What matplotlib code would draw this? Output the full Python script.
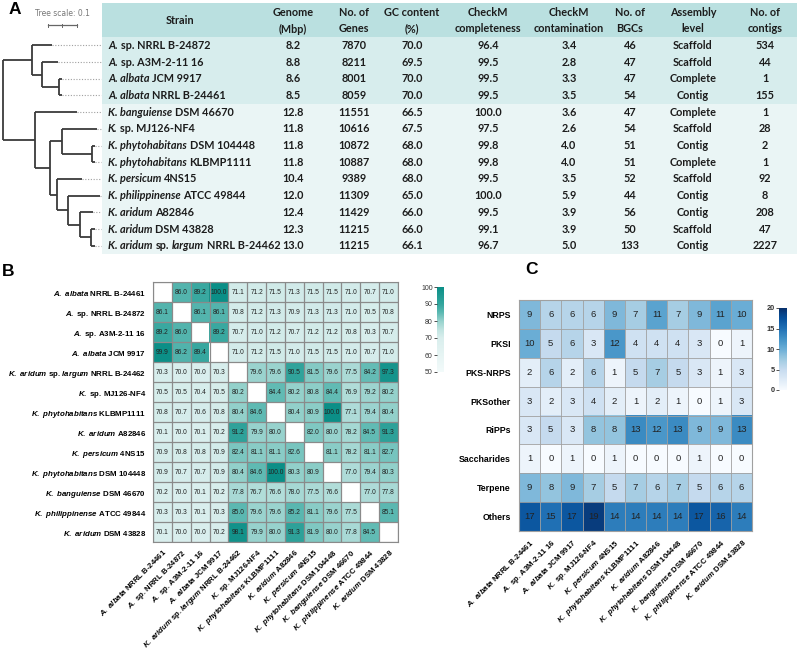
import matplotlib
matplotlib.use("Agg")
import matplotlib.pyplot as plt
import numpy as np
from matplotlib.colors import LinearSegmentedColormap
from matplotlib.patches import Rectangle

plt.rcParams.update({
    "font.family": "Liberation Sans",
    "mathtext.fontset": "custom",
    "mathtext.rm": "Liberation Sans:bold",
    "mathtext.bf": "Liberation Sans:bold",
    "mathtext.it": "Liberation Sans:italic:bold",
})

W, H = 797, 653

# ---------------- Panel A: genome table ----------------
# italic parts wrapped in *...*
STRAINS = [
    "*A.* sp. NRRL B-24872", "*A.* sp. A3M-2-11 16", "*A. albata* JCM 9917",
    "*A. albata* NRRL B-24461", "*K. banguiense* DSM 46670", "*K.* sp. MJ126-NF4",
    "*K. phytohabitans* DSM 104448", "*K. phytohabitans* KLBMP1111",
    "*K. persicum* 4NS15", "*K. philippinense* ATCC 49844", "*K. aridum* A82846",
    "*K. aridum* DSM 43828", "*K. aridum* sp. *largum* NRRL B-24462",
]
GENOME = [8.2, 8.8, 8.6, 8.5, 12.8, 11.8, 11.8, 11.8, 10.4, 12.0, 12.4, 12.3, 13.0]
GENES = [7870, 8211, 8001, 8059, 11551, 10616, 10872, 10887, 9389, 11309, 11429, 11215, 11215]
GC = [70.0, 69.5, 70.0, 70.0, 66.5, 67.5, 68.0, 68.0, 68.0, 65.0, 66.0, 66.0, 66.1]
COMPLETENESS = [96.4, 99.5, 99.5, 99.5, 100.0, 97.5, 99.8, 99.8, 99.5, 100.0, 99.5, 99.1, 96.7]
CONTAMINATION = [3.4, 2.8, 3.3, 3.5, 3.6, 2.6, 4.0, 4.0, 3.5, 5.9, 3.9, 3.9, 5.0]
BGCS = [46, 47, 47, 54, 47, 54, 51, 51, 52, 44, 56, 50, 133]
ASSEMBLY = ["Scaffold", "Scaffold", "Complete", "Contig", "Complete", "Scaffold", "Contig",
            "Complete", "Scaffold", "Contig", "Contig", "Scaffold", "Contig"]
CONTIGS = [534, 44, 1, 155, 1, 28, 2, 1, 92, 8, 208, 47, 2227]
HEADERS = [("Strain",), ("Genome", "(Mbp)"), ("No. of", "Genes"), ("GC content", "(%)"),
           ("CheckM", "completeness"), ("CheckM", "contamination"), ("No. of", "BGCs"),
           ("Assembly", "level"), ("No. of", "contigs")]

# phylogeny: (branch length, children | leaf row index)
TREE = (0.0, [
    (0.100, [
        (0.069, 0),
        (0.034, [(0.055, 1), (0.059, [(0.010, 2), (0.010, 3)])]),
    ]),
    (0.110, [
        (0.145, 4),
        (0.052, [
            (0.041, [(0.121, 5), (0.103, [(0.010, 6), (0.010, 7)])]),
            (0.024, [(0.086, 8),
                     (0.038, [(0.110, 9),
                              (0.041, [(0.045, 10), (0.038, [(0.014, 11), (0.014, 12)])])])]),
        ]),
    ]),
])

# ---------------- Panel B: ANI matrix ----------------
ANI_LABELS = [
    "*A. albata* NRRL B-24461", "*A.* sp. NRRL B-24872", "*A.* sp. A3M-2-11 16",
    "*A. albata*  JCM 9917", "*K. aridum* sp. *largum* NRRL B-24462", "*K.* sp. MJ126-NF4",
    "*K. phytohabitans* KLBMP1111", "*K. aridum* A82846", "*K. persicum* 4NS15",
    "*K. phytohabitans* DSM 104448", "*K. banguiense* DSM 46670",
    "*K. philippinense* ATCC 49844", "*K. aridum* DSM 43828",
]
nan = np.nan
ANI = np.array([
    [nan, 86.0, 89.2, 100.0, 71.1, 71.2, 71.5, 71.3, 71.5, 71.5, 71.0, 70.7, 71.0],
    [86.1, nan, 86.1, 86.1, 70.8, 71.2, 71.3, 70.9, 71.3, 71.3, 71.0, 70.5, 70.8],
    [89.2, 86.0, nan, 89.2, 70.7, 71.0, 71.2, 70.7, 71.2, 71.2, 70.8, 70.3, 70.7],
    [99.9, 86.2, 89.4, nan, 71.0, 71.2, 71.5, 71.0, 71.5, 71.5, 71.0, 70.7, 71.0],
    [70.3, 70.0, 70.0, 70.3, nan, 79.6, 79.6, 90.5, 81.5, 79.6, 77.5, 84.2, 97.3],
    [70.5, 70.5, 70.4, 70.5, 80.2, nan, 84.4, 80.2, 80.8, 84.4, 76.9, 79.2, 80.2],
    [70.8, 70.7, 70.6, 70.8, 80.4, 84.6, nan, 80.4, 80.9, 100.0, 77.1, 79.4, 80.4],
    [70.1, 70.0, 70.1, 70.2, 91.2, 79.9, 80.0, nan, 82.0, 80.0, 78.2, 84.5, 91.3],
    [70.9, 70.8, 70.8, 70.9, 82.4, 81.1, 81.1, 82.6, nan, 81.1, 78.2, 81.1, 82.7],
    [70.9, 70.7, 70.7, 70.9, 80.4, 84.6, 100.0, 80.3, 80.9, nan, 77.0, 79.4, 80.3],
    [70.2, 70.0, 70.1, 70.2, 77.8, 76.7, 76.6, 78.0, 77.5, 76.6, nan, 77.0, 77.8],
    [70.3, 70.3, 70.1, 70.3, 85.0, 79.6, 79.6, 85.2, 81.1, 79.6, 77.5, nan, 85.1],
    [70.1, 70.0, 70.0, 70.2, 98.1, 79.9, 80.0, 91.3, 81.9, 80.0, 77.8, 84.5, nan],
])

# ---------------- Panel C: BGC classes ----------------
BGC_CLASSES = ["NRPS", "PKSI", "PKS-NRPS", "PKSother", "RiPPs", "Saccharides", "Terpene", "Others"]
BGC_STRAINS = [
    "*A. albata* NRRL B-24461", "*A.* sp. A3M-2-11 16", "*A. albata* JCM 9917",
    "*K.* sp. MJ126-NF4", "*K. persicum* 4NS15", "*K. phytohabitans* KLBMP1111",
    "*K. aridum* A82846", "*K. phytohabitans* DSM 104448", "*K. banguiense* DSM 46670",
    "*K. philippinense* ATCC 49844", "*K. aridum* DSM 43828",
]
BGC_COUNTS = np.array([
    [9, 6, 6, 6, 9, 7, 11, 7, 9, 11, 10],
    [10, 5, 6, 3, 12, 4, 4, 4, 3, 0, 1],
    [2, 6, 2, 6, 1, 5, 7, 5, 3, 1, 3],
    [3, 2, 3, 4, 2, 1, 2, 1, 0, 1, 3],
    [3, 5, 3, 8, 8, 13, 12, 13, 9, 9, 13],
    [1, 0, 1, 0, 1, 0, 0, 0, 1, 0, 0],
    [9, 8, 9, 7, 5, 7, 6, 7, 5, 6, 6],
    [17, 15, 17, 19, 14, 14, 14, 14, 17, 16, 14],
])


def segments(s):
    parts = s.split("*")
    return [(p.strip(), i % 2 == 1) for i, p in enumerate(parts) if p.strip()]


def mathlabel(s):
    out = []
    for txt, ital in segments(s):
        if ital:
            out.append(r"$\mathit{" + txt.replace(" ", r"\ ") + "}$")
        else:
            out.append(txt)
    return " ".join(out)


fig = plt.figure(figsize=(W / 100, H / 100), dpi=100)
ov = fig.add_axes([0, 0, 1, 1])
ov.set_xlim(0, W)
ov.set_ylim(H, 0)
ov.axis("off")
ov.patch.set_alpha(0)
renderer = fig.canvas.get_renderer()

TABLE_X0 = 102
ROW_TOP, ROW_H = 37, 16.7
row_y = [ROW_TOP + ROW_H * (i + 0.5) for i in range(len(STRAINS))]
n_a = sum(s.startswith("*A.") for s in STRAINS)

ov.add_patch(Rectangle((TABLE_X0, 3), W - TABLE_X0, ROW_TOP - 3, color="#bae0e0", lw=0))
ov.add_patch(Rectangle((TABLE_X0, ROW_TOP), W - TABLE_X0, ROW_H * n_a, color="#d7eded", lw=0))
ov.add_patch(Rectangle((TABLE_X0, ROW_TOP + ROW_H * n_a), W - TABLE_X0,
                       ROW_H * (len(STRAINS) - n_a), color="#eaf5f5", lw=0))

tfont = dict(family="Lato", fontweight="bold", fontsize=7.8, color="#1c1c1c")
col_x = [180, 293, 354, 412, 488, 569, 630, 693, 765]
for cx, hdr in zip(col_x, HEADERS):
    if len(hdr) == 1:
        ov.text(cx, 20, hdr[0], ha="center", va="center", **tfont)
    else:
        ov.text(cx, 12, hdr[0], ha="center", va="center", **tfont)
        ov.text(cx, 29, hdr[1], ha="center", va="center", **tfont)

columns = [[f"{v:.1f}" for v in GENOME], [str(v) for v in GENES], [f"{v:.1f}" for v in GC],
           [f"{v:.1f}" for v in COMPLETENESS], [f"{v:.1f}" for v in CONTAMINATION],
           [str(v) for v in BGCS], ASSEMBLY, [str(v) for v in CONTIGS]]
for i, y in enumerate(row_y):
    x = 108
    for txt, ital in segments(STRAINS[i]):
        t = ov.text(x, y, txt, ha="left", va="center",
                    style="italic" if ital else "normal", **tfont)
        x += t.get_window_extent(renderer).width + 2.8
    for cx, col in zip(col_x[1:], columns):
        ov.text(cx, y, col[i], ha="center", va="center", **tfont)

# tree
TREE_PX = 290.0
tree_kw = dict(color="#3a3a3a", lw=1.3, solid_capstyle="butt")


def draw_clade(node, x0):
    bl, sub = node
    x1 = x0 + bl * TREE_PX
    if isinstance(sub, int):
        y = row_y[sub]
        ov.plot([x1, TABLE_X0 - 1], [y, y], color="#a0a0a0", lw=0.8, ls=(0, (1, 1.5)))
    else:
        ys = [draw_clade(c, x1) for c in sub]
        y = (ys[0] + ys[-1]) / 2
        ov.plot([x1, x1], [ys[0], ys[-1]], **tree_kw)
    if bl > 0:
        ov.plot([x0, x1], [y, y], **tree_kw)
    return y


draw_clade(TREE, 3)
ov.text(62, 13, "Tree scale: 0.1", ha="center", va="center", fontsize=5.5, color="#777777",
        family="DejaVu Sans")
ov.plot([48, 48 + 0.1 * TREE_PX], [25, 25], color="#666666", lw=0.9)
for xx in (48, 48 + 0.05 * TREE_PX, 48 + 0.1 * TREE_PX):
    ov.plot([xx, xx], [23.5, 26.5], color="#666666", lw=0.7)

for letter, (lx, ly) in zip("ABC", [(15, 10), (8, 271), (532, 270)]):
    ov.text(lx, ly, letter, ha="center", va="center", fontsize=12.5, fontweight="bold")

# ---------------- Panel B ----------------
teal = LinearSegmentedColormap.from_list("teal", [
    (0.0, "#f2fafa"), (0.2, "#e6f4f3"), (0.4, "#d9eeed"), (0.5, "#bfe3e0"),
    (0.6, "#97d2cd"), (0.7, "#5cb9b2"), (0.8, "#33a59d"), (1.0, "#0b8f87")])
teal.set_bad("white")
axB = fig.add_axes([153 / W, 1 - 542 / H, 245 / W, 260 / H])
imB = axB.imshow(np.ma.masked_invalid(ANI), cmap=teal, vmin=50, vmax=100, aspect="auto",
                 interpolation="nearest")
n = ANI.shape[0]
for r in range(n):
    for c in range(n):
        if not np.isnan(ANI[r, c]):
            axB.text(c, r, f"{ANI[r, c]:.1f}", ha="center", va="center", fontsize=4.8,
                     color="#222222")
axB.set_xticks(np.arange(n + 1) - 0.5, minor=True)
axB.set_yticks(np.arange(n + 1) - 0.5, minor=True)
axB.grid(which="minor", color="#8a8a8a", lw=0.9)
axB.tick_params(which="both", length=0)
axB.set_xticks(range(n))
axB.set_yticks(range(n))
labels_b = [mathlabel(s) for s in ANI_LABELS]
axB.set_yticklabels(labels_b, fontsize=5.7, fontweight="bold")
axB.set_xticklabels(labels_b, fontsize=5.6, fontweight="bold", rotation=45, ha="right",
                    rotation_mode="anchor")
axB.tick_params(axis="x", pad=4)
axB.tick_params(axis="y", pad=5)
for sp in axB.spines.values():
    sp.set_color("#8a8a8a")

caxB = fig.add_axes([437 / W, 1 - 372 / H, 7 / W, 85 / H])
cbB = fig.colorbar(imB, cax=caxB, ticks=[50, 60, 70, 80, 90, 100])
cbB.outline.set_visible(False)
caxB.yaxis.set_ticks_position("left")
caxB.tick_params(labelsize=5, length=2, width=0.6, pad=1, colors="#333333")

# ---------------- Panel C ----------------
axC = fig.add_axes([519 / W, 1 - 531 / H, 233 / W, 231 / H])
imC = axC.imshow(BGC_COUNTS, cmap="Blues", vmin=0, vmax=20, aspect="auto",
                 interpolation="nearest")
nr, nc = BGC_COUNTS.shape
for r in range(nr):
    for c in range(nc):
        axC.text(c, r, str(BGC_COUNTS[r, c]), ha="center", va="center", fontsize=6.8,
                 color="#222222")
axC.set_xticks(np.arange(nc + 1) - 0.5, minor=True)
axC.set_yticks(np.arange(nr + 1) - 0.5, minor=True)
axC.grid(which="minor", color="#a0a0a0", lw=0.6)
axC.tick_params(which="both", length=0)
axC.set_xticks(range(nc))
axC.set_yticks(range(nr))
axC.set_yticklabels(BGC_CLASSES, fontsize=6.3, fontweight="bold")
axC.set_xticklabels([mathlabel(s) for s in BGC_STRAINS], fontsize=5.6, fontweight="bold",
                    rotation=45, ha="right", rotation_mode="anchor")
axC.tick_params(axis="x", pad=5)
axC.tick_params(axis="y", pad=6)
for sp in axC.spines.values():
    sp.set_color("#a0a0a0")

caxC = fig.add_axes([779 / W, 1 - 390 / H, 8 / W, 82 / H])
cbC = fig.colorbar(imC, cax=caxC, ticks=[0, 5, 10, 15, 20])
cbC.outline.set_visible(False)
caxC.yaxis.set_ticks_position("left")
caxC.tick_params(labelsize=5.3, length=2, width=0.6, pad=1, colors="#333333")
for lb in caxC.get_yticklabels():
    lb.set_fontweight("bold")

fig.savefig("out.png", dpi=100)
